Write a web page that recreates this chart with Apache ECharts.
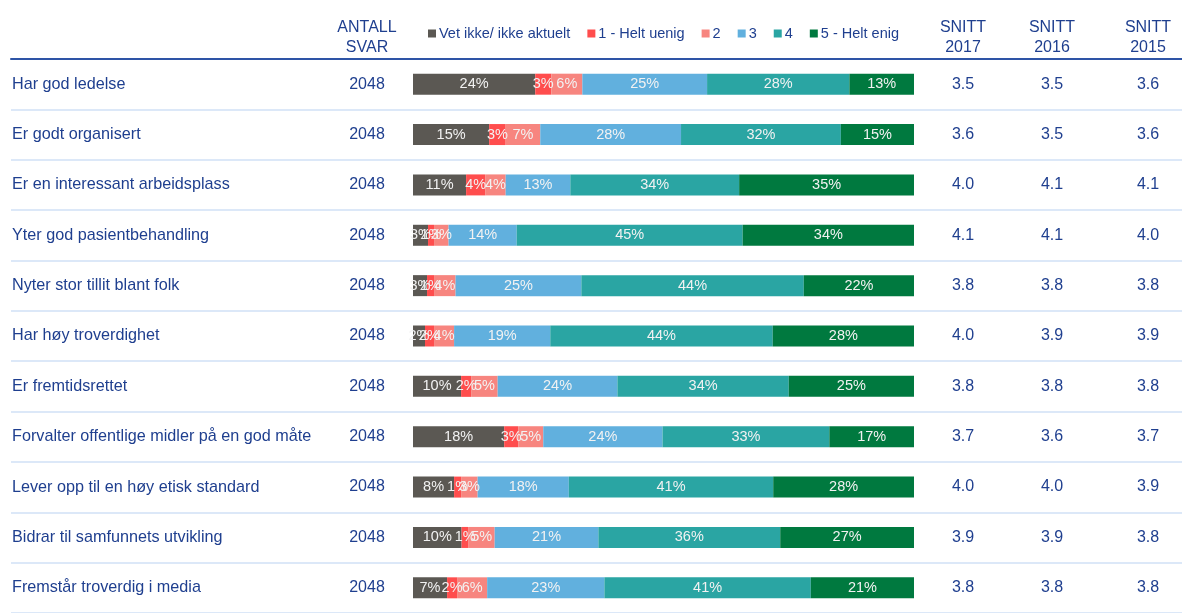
<!DOCTYPE html>
<html>
<head>
<meta charset="utf-8">
<script src="https://cdn.jsdelivr.net/npm/echarts@6/dist/echarts.min.js"></script>
<style>
  html, body { margin: 0; padding: 0; background: #fff; }
  #chart { width: 1182px; height: 613px; }
</style>
</head>
<body>
<div id="chart"></div>
<script>
const statements = [
  'Har god ledelse',
  'Er godt organisert',
  'Er en interessant arbeidsplass',
  'Yter god pasientbehandling',
  'Nyter stor tillit blant folk',
  'Har høy troverdighet',
  'Er fremtidsrettet',
  'Forvalter offentlige midler på en god måte',
  'Lever opp til en høy etisk standard',
  'Bidrar til samfunnets utvikling',
  'Fremstår troverdig i media'
]
const antallSvar = [2048, 2048, 2048, 2048, 2048, 2048, 2048, 2048, 2048, 2048, 2048]
const snitt2017 = ['3.5', '3.6', '4.0', '4.1', '3.8', '4.0', '3.8', '3.7', '4.0', '3.9', '3.8']
const snitt2016 = ['3.5', '3.5', '4.1', '4.1', '3.8', '3.9', '3.8', '3.6', '4.0', '3.9', '3.8']
const snitt2015 = ['3.6', '3.6', '4.1', '4.0', '3.8', '3.9', '3.8', '3.7', '3.9', '3.8', '3.8']

const answerNames = ['Vet ikke/ ikke aktuelt', '1 - Helt uenig', '2', '3', '4', '5 - Helt enig']
const vetIkke = [24.4, 15.2, 10.6, 3.0, 2.8, 2.4, 9.6, 18.2, 8.2, 9.7, 6.8]
const heltUenig = [3.2, 3.3, 3.8, 1.2, 1.4, 1.8, 2.0, 2.8, 1.4, 1.4, 2.0]
const to = [6.2, 6.9, 4.1, 2.9, 4.3, 4.0, 5.3, 5.0, 3.3, 5.2, 6.0]
const tre = [24.9, 28.1, 12.9, 13.6, 25.1, 19.2, 23.9, 23.8, 18.2, 20.7, 23.4]
const fire = [28.4, 31.9, 33.7, 45.1, 44.4, 44.4, 34.2, 33.3, 40.8, 36.3, 41.2]
const heltEnig = [12.9, 14.6, 34.9, 34.2, 22.0, 28.2, 25.0, 16.9, 28.1, 26.7, 20.6]

const answerValues = [vetIkke, heltUenig, to, tre, fire, heltEnig]
const colors = ['#5b5853', '#ff4d4d', '#f7857f', '#61b0de', '#2aa5a3', '#00793f']

const FONT = "'Liberation Sans', Arial, sans-serif"
const TEXT = '#1f3f8f'
const TABLE_LEFT = 11

const chart = echarts.init(document.getElementById('chart'))

// one hidden-line category axis per text column, moved to its x with offset
function tableAxis(labels, x, align, size) {
  return {
    type: 'category',
    gridIndex: 1,
    position: 'left',
    offset: TABLE_LEFT - x,
    inverse: true,
    data: statements,
    axisLine: { show: false },
    axisTick: { show: false },
    splitLine: { show: false },
    axisLabel: {
      inside: true,
      margin: 0,
      align: align,
      color: TEXT,
      fontSize: size,
      fontFamily: FONT,
      formatter: (v, i) => String(labels[i])
    }
  }
}

function header(text, x) {
  return {
    type: 'text',
    x: x,
    y: 18,
    style: {
      text: text,
      textAlign: 'center',
      fill: TEXT,
      font: '16px ' + FONT,
      lineHeight: 20
    }
  }
}

chart.setOption({
  backgroundColor: '#ffffff',
  animation: false,
  textStyle: { fontFamily: FONT },
  legend: {
    data: answerNames,
    left: 423,
    top: 21,
    icon: 'rect',
    itemWidth: 8,
    itemHeight: 8,
    itemGap: 17,
    textStyle: { color: TEXT, fontSize: 14.5, fontFamily: FONT, padding: [0, 0, 0, -2] }
  },
  grid: [
    { left: 413, right: 268, top: 59, height: 562 },
    { left: TABLE_LEFT, right: 0, top: 59, height: 562 }
  ],
  xAxis: [
    { type: 'value', gridIndex: 0, min: 0, max: 100, show: false },
    {
      type: 'value',
      gridIndex: 1,
      position: 'top',
      min: 0,
      max: 1,
      axisLine: { show: true, lineStyle: { color: '#2e54a6', width: 2 } },
      axisTick: { show: false },
      axisLabel: { show: false },
      splitLine: { show: false }
    }
  ],
  yAxis: [
    {
      type: 'category',
      gridIndex: 0,
      inverse: true,
      data: statements,
      axisLine: { show: false },
      axisTick: { show: false },
      axisLabel: { show: false },
      splitLine: { show: false }
    },
    Object.assign(tableAxis(statements, 12, 'left', 16.2), {
      splitLine: { show: true, lineStyle: { color: '#dce8f8', width: 2 } }
    }),
    tableAxis(antallSvar, 367, 'center', 16),
    tableAxis(snitt2017, 963, 'center', 16),
    tableAxis(snitt2016, 1052, 'center', 16),
    tableAxis(snitt2015, 1148, 'center', 16)
  ],
  graphic: [
    header('ANTALL\nSVAR', 367),
    header('SNITT\n2017', 963),
    header('SNITT\n2016', 1052),
    header('SNITT\n2015', 1148)
  ],
  series: answerNames.map((name, k) => ({
    name: name,
    type: 'bar',
    stack: 'total',
    xAxisIndex: 0,
    yAxisIndex: 0,
    barWidth: 21,
    data: answerValues[k],
    itemStyle: { color: colors[k] },
    label: {
      show: true,
      position: 'inside',
      color: '#f2f2f2',
      fontSize: 14.5,
      fontFamily: FONT,
      formatter: p => Math.round(p.value) + '%'
    }
  }))
})

window.addEventListener('resize', () => chart.resize())
</script>
</body>
</html>
